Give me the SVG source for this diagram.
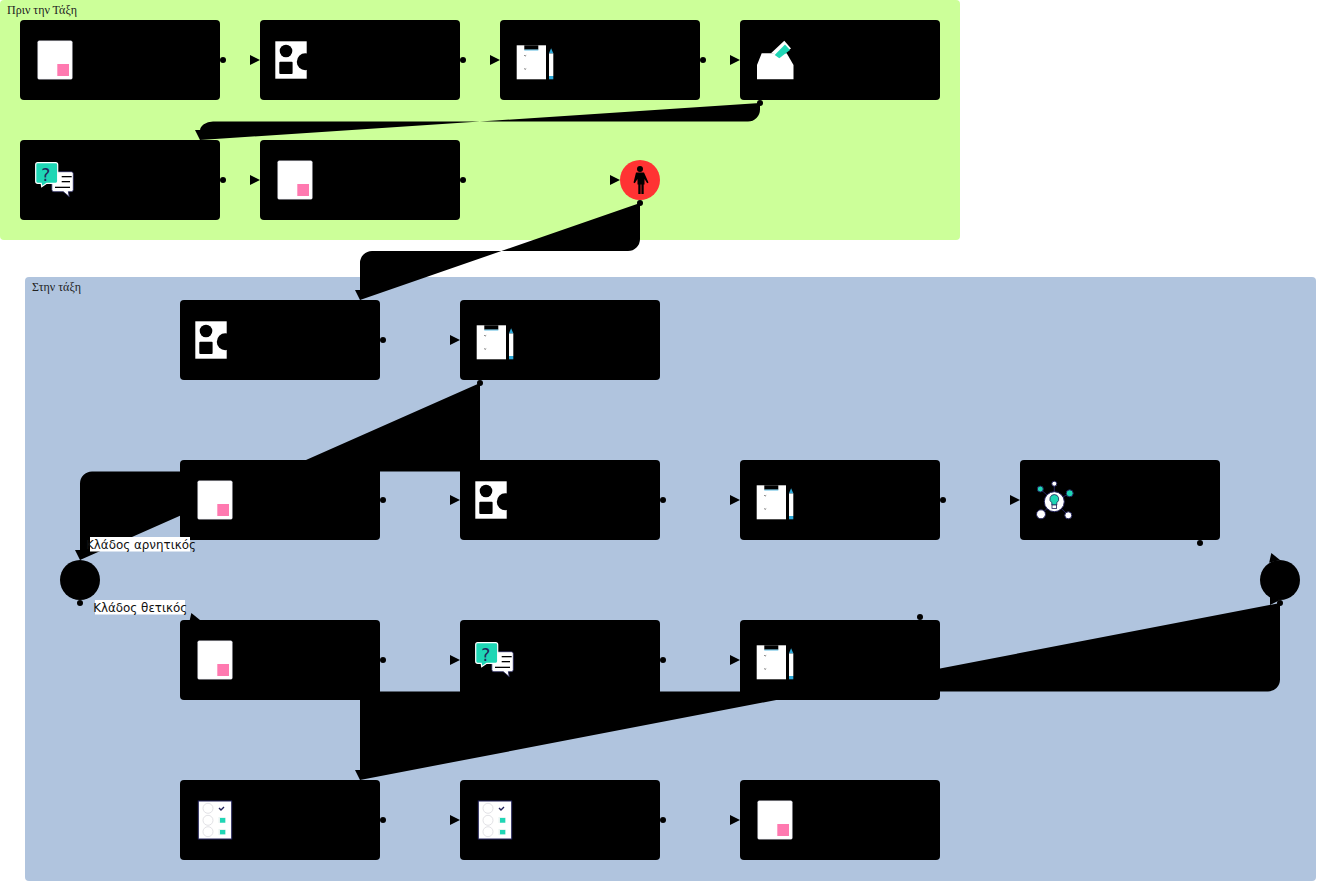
<svg xmlns="http://www.w3.org/2000/svg" width="1318" height="883" viewBox="0 0 1318 883">
<style>
.lane{font-family:"Liberation Serif",serif;font-size:12px;fill:#222}
.lbl{font-family:"DejaVu Sans",sans-serif;font-size:11.900px;fill:#111}
.box{fill:#000}
.wire{fill:none;stroke:none}
.flow{fill:#000;stroke:none}
.nv{stroke:#23235b;stroke-width:1}
.pink{fill:#ff79b0}
.teal{fill:#1fd6b5}
.blue{fill:#2ea8d8}
.w{fill:#fff}
</style>
<defs>
<marker id="arrow" markerUnits="userSpaceOnUse" markerWidth="12" markerHeight="12" refX="10" refY="5" orient="auto" overflow="visible"><path d="M0 0L10 5L0 10Z" fill="#000"/></marker>
<marker id="dot" markerUnits="userSpaceOnUse" markerWidth="8" markerHeight="8" refX="4" refY="4" overflow="visible"><circle cx="4" cy="4" r="3" fill="#000"/></marker>
<g id="i-doc"><rect x="17.7" y="20.7" width="34.6" height="38.6" rx="1.500" class="w" stroke="#c8c8d8" stroke-width=".4"/><rect x="37.3" y="44" width="11.700" height="12" class="pink"/></g>
<g id="i-shapes"><rect x="15.3" y="21.3" width="31.4" height="37.4" class="w"/><circle cx="26" cy="31" r="6.3"/><rect x="19.3" y="41.700" width="13.300" height="12.300" rx="1"/><circle cx="45.300" cy="41.700" r="8.500"/></g>
<g id="i-clip"><rect x="16.7" y="25.3" width="29.3" height="34" class="w"/><rect x="24.300" y="25.300" width="14" height="4.300"/><rect x="24.300" y="29.600" width="14" height=".8" class="blue"/><path d="M24.200 35.300l1 .7 1-.7M24.200 48.600l1 .7 1-.7" fill="none" stroke="#333" stroke-width=".7"/><rect x="49" y="33.300" width="4.300" height="22.700" class="w"/><path d="M51.100 28.300L53.300 33.300H49Z" class="blue"/><rect x="49" y="56" width="4.300" height="3.300" class="blue"/></g>
<g id="i-qa"><path d="M33.800 31.700h17.500a2 2 0 0 1 2 2v16a2 2 0 0 1-2 2h-3l1 5-6-5h-9.500a2 2 0 0 1-2-2v-16a2 2 0 0 1 2-2Z" class="w" stroke="#23235b" stroke-width=".8"/><rect x="41.700" y="36" width="10" height="1.300"/><rect x="41.700" y="41" width="8.300" height="1.300"/><rect x="35" y="46.700" width="15" height="1.300"/><path d="M17.700 22.700h18a2 2 0 0 1 2 2v16.600a2 2 0 0 1-2 2h-9l-5 3.400-.5-3.400h-3.500a2 2 0 0 1-2-2v-16.600a2 2 0 0 1 2-2Z" class="teal" stroke="#fff" stroke-width="1.200"/><text x="25.700" y="40.700" font-family="DejaVu Sans,sans-serif" font-size="17" fill="#23235b" text-anchor="middle">?</text></g>
<g id="i-check"><rect x="18.300" y="21" width="33.400" height="38" class="w nv"/><circle cx="28" cy="28.300" r="5" fill="none" stroke="#e2e2e6"/><circle cx="28" cy="40.300" r="5" fill="none" stroke="#e2e2e6"/><circle cx="28" cy="51.700" r="5" fill="none" stroke="#e2e2e6"/><path d="M39 28l2 2 3-3" fill="none" stroke="#23235b" stroke-width="1.400"/><rect x="38.500" y="37" width="7" height="6" fill="#e8f4f2"/><rect x="38.500" y="49" width="7" height="6" fill="#e8f4f2"/><rect x="40" y="38" width="5.300" height="4.700" class="teal"/><rect x="40" y="50" width="5.300" height="4.300" class="teal"/></g>
</defs>
<rect x="0" y="0" width="960" height="240" rx="4" fill="#ccff99"/>
<rect x="25" y="277" width="1291" height="604" rx="4" fill="#b0c4de"/>
<text class="lane" x="7" y="14">Πριν την Τάξη</text>
<text class="lane" x="32" y="291">Στην τάξη</text>
<g id="connectors">
<path class="wire" marker-start="url(#dot)" marker-end="url(#arrow)" d="M223 60L260 60"/>
<path class="wire" marker-start="url(#dot)" marker-end="url(#arrow)" d="M463 60L500 60"/>
<path class="wire" marker-start="url(#dot)" marker-end="url(#arrow)" d="M703 60L740 60"/>
<path class="flow" marker-start="url(#dot)" marker-end="url(#arrow)" d="M760 103V109.500A12 12 0 0 1 748 121.500H213A13 9 0 0 0 200 130.500V140"/>
<path class="wire" marker-start="url(#dot)" marker-end="url(#arrow)" d="M223 180L260 180"/>
<path class="wire" marker-start="url(#dot)" marker-end="url(#arrow)" d="M463 180L620 180"/>
<path class="flow" marker-start="url(#dot)" marker-end="url(#arrow)" d="M640 203V239A12 12 0 0 1 628 251H372A12 12 0 0 0 360 263V300"/>
<path class="wire" marker-start="url(#dot)" marker-end="url(#arrow)" d="M383 340L460 340"/>
<path class="flow" marker-start="url(#dot)" marker-end="url(#arrow)" d="M480 383V471.500H92A12 12 0 0 0 80 483.500V560"/>
<path class="wire" marker-start="url(#dot)" marker-end="url(#arrow)" d="M383 500L460 500"/>
<path class="wire" marker-start="url(#dot)" marker-end="url(#arrow)" d="M663 500L740 500"/>
<path class="wire" marker-start="url(#dot)" marker-end="url(#arrow)" d="M943 500L1020 500"/>
<path class="wire" marker-start="url(#dot)" marker-end="url(#arrow)" d="M1200 543L1271 558L1280 560"/>
<path class="wire" marker-start="url(#dot)" marker-end="url(#arrow)" d="M80 603L191 618L200 620"/>
<path class="wire" marker-start="url(#dot)" marker-end="url(#arrow)" d="M383 660L460 660"/>
<path class="wire" marker-start="url(#dot)" marker-end="url(#arrow)" d="M663 660L740 660"/>
<path class="wire" marker-start="url(#dot)" marker-end="url(#arrow)" d="M920 617L1270 600L1280 600"/>
<path class="flow" marker-start="url(#dot)" marker-end="url(#arrow)" d="M1280 603V679.500A12 12 0 0 1 1268 691.500H360V780"/>
<path class="wire" marker-start="url(#dot)" marker-end="url(#arrow)" d="M383 820L460 820"/>
<path class="wire" marker-start="url(#dot)" marker-end="url(#arrow)" d="M663 820L740 820"/>
</g>
<g id="n1" transform="translate(20 20)"><rect class="box" width="200" height="80" rx="4"/><use href="#i-doc"/></g>
<g id="n2" transform="translate(260 20)"><rect class="box" width="200" height="80" rx="4"/><use href="#i-shapes"/></g>
<g id="n3" transform="translate(500 20)"><rect class="box" width="200" height="80" rx="4"/><use href="#i-clip"/></g>
<g id="n4" transform="translate(740 20)"><rect class="box" width="200" height="80" rx="4"/><path d="M17 45L21.700 33.300H46.700L53.500 45V59.300H17Z" class="w"/><path d="M31 33.300L44.300 20.700L51 28.500L41 35Z" class="w"/><path d="M34.700 35L45 24.500L50 30L39.300 38.300Z" class="teal"/></g>
<g id="n5" transform="translate(20 140)"><rect class="box" width="200" height="80" rx="4"/><use href="#i-qa"/></g>
<g id="n6" transform="translate(260 140)"><rect class="box" width="200" height="80" rx="4"/><use href="#i-doc"/></g>
<g id="n7"><circle cx="640" cy="180" r="20" fill="#ff3333"/><circle cx="640" cy="169" r="3"/><path d="M636 172.500h8l4.500 10-1.300.8-2.700-4.300v5.500h-.8v9.500h-2.300v-9.500h-.8v9.500h-2.300v-9.500h-.8v-5.500l-2.700 4.300-1.300-.8Z"/></g>
<g id="n8" transform="translate(180 300)"><rect class="box" width="200" height="80" rx="4"/><use href="#i-shapes"/></g>
<g id="n9" transform="translate(460 300)"><rect class="box" width="200" height="80" rx="4"/><use href="#i-clip"/></g>
<g id="n10" transform="translate(180 460)"><rect class="box" width="200" height="80" rx="4"/><use href="#i-doc"/></g>
<g id="n11" transform="translate(460 460)"><rect class="box" width="200" height="80" rx="4"/><use href="#i-shapes"/></g>
<g id="n12" transform="translate(740 460)"><rect class="box" width="200" height="80" rx="4"/><use href="#i-clip"/></g>
<g id="n13" transform="translate(1020 460)"><rect class="box" width="200" height="80" rx="4"/><g stroke="#23235b" stroke-width="1"><path d="M34.300 41.700L20.300 29M34.300 41.700V23.700M34.300 41.700L49.700 33.300M34.300 41.700L21 54.300M34.300 41.700L48.300 55.300" fill="none"/><circle cx="20.300" cy="29" r="3" class="teal"/><circle cx="34.300" cy="23.700" r="2.500" class="w"/><circle cx="49.700" cy="33.300" r="3.500" class="teal"/><circle cx="21" cy="54.300" r="4.500" class="w"/><circle cx="48.300" cy="55.300" r="3.500" class="w"/><circle cx="34.300" cy="41.700" r="10" class="w"/></g><path d="M34.300 34.500a4.500 4.500 0 0 1 2.500 8.200v2.300h-5v-2.300a4.500 4.500 0 0 1 2.500-8.200Z" class="teal" stroke="#23235b" stroke-width=".8"/><rect x="32" y="45" width="4.600" height="3.500" class="w" stroke="#23235b" stroke-width=".8"/></g>
<g id="n14" transform="translate(180 620)"><rect class="box" width="200" height="80" rx="4"/><use href="#i-doc"/></g>
<g id="n15" transform="translate(460 620)"><rect class="box" width="200" height="80" rx="4"/><use href="#i-qa"/></g>
<g id="n16" transform="translate(740 620)"><rect class="box" width="200" height="80" rx="4"/><use href="#i-clip"/></g>
<g id="n17" transform="translate(180 780)"><rect class="box" width="200" height="80" rx="4"/><use href="#i-check"/></g>
<g id="n18" transform="translate(460 780)"><rect class="box" width="200" height="80" rx="4"/><use href="#i-check"/></g>
<g id="n19" transform="translate(740 780)"><rect class="box" width="200" height="80" rx="4"/><use href="#i-doc"/></g>
<g id="n20"><circle cx="80" cy="580" r="20"/></g>
<g id="n21"><circle cx="1280" cy="580" r="20"/></g>
<g id="labels">
<rect x="90" y="537" width="100" height="14.500" fill="#fff"/>
<text class="lbl" x="141" y="549" text-anchor="middle">Κλάδος αρνητικός</text>
<rect x="95" y="600" width="90" height="14.500" fill="#fff"/>
<text class="lbl" x="140.200" y="612" text-anchor="middle">Κλάδος θετικός</text>
</g>
</svg>
